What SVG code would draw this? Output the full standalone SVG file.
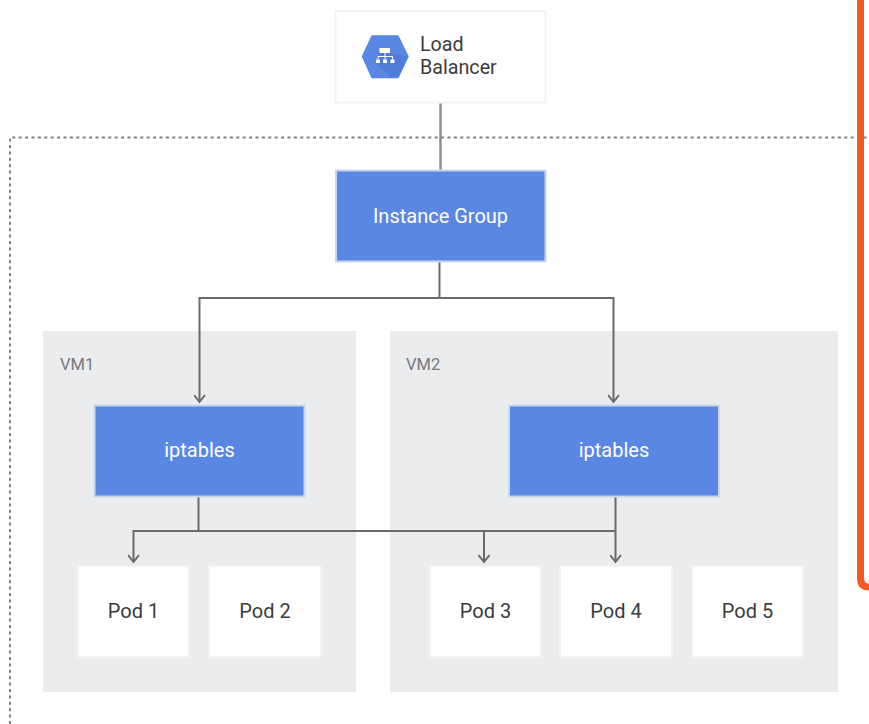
<svg xmlns="http://www.w3.org/2000/svg" width="869" height="724" viewBox="0 0 869 724">
<style>
text{font-family:Roboto,"Liberation Sans",sans-serif}
.vm{fill:#ebecee}
.vml{font-size:16.500px;fill:#77797c}
.blue{fill:#5a86e4;stroke:#c9d6ee;stroke-width:2}
.white{fill:#fff;stroke:#f3f3f3;stroke-width:2}
.bl{font-size:20px;fill:#fff;text-anchor:middle}
.pl{font-size:20px;fill:#3c3c3c;text-anchor:middle}
.c{fill:none;stroke:#6a6a6a;stroke-width:2}
.c2{fill:none;stroke:#8c8c8c;stroke-width:2.400}
.a{marker-end:url(#arrow)}
</style>
<defs>
<marker id="arrow" markerUnits="userSpaceOnUse" markerWidth="16" markerHeight="12" refX="13" refY="6" orient="auto">
<path d="M6 0.500L13 6L6 11.500" fill="none" stroke="#6a6a6a" stroke-width="2"/>
</marker>
</defs>
<rect width="869" height="724" fill="#fff"/>
<path id="boundary" d="M10 724V137.500H869" fill="none" stroke="#808080" stroke-width="2" stroke-dasharray="3 3.400"/>
<path id="orange-frame" d="M860.500 0V578Q860.500 587 869 587" fill="none" stroke="#f15a24" stroke-width="7"/>
<g id="vm1"><rect class="vm" x="43" y="331" width="313" height="361"/><text class="vml" x="60" y="370">VM1</text></g>
<g id="vm2"><rect class="vm" x="390" y="331" width="448" height="361"/><text class="vml" x="406" y="370">VM2</text></g>
<g id="connectors">
<path class="c2" d="M440.500 103V170"/>
<path class="c" d="M439.500 262V298"/>
<path class="c a" d="M439.500 298H199.500V402"/>
<path class="c a" d="M439.500 298H613.500V402"/>
<path class="c" d="M198.500 497V531"/>
<path class="c a" d="M615 531H133.500V562"/>
<path class="c a" d="M484 531V562"/>
<path class="c a" d="M615.500 497V562"/>
</g>
<g id="load-balancer">
<rect class="white" x="335.500" y="11" width="210" height="91.500"/>
<path d="M372 36H398L408 56.500L398 77.500H372L362.500 56.500Z" fill="#5a86e4" stroke="#5a86e4" stroke-width="1.500" stroke-linejoin="round"/>
<path d="M380 52L408 56.500L398 77.500H391L375 62Z" fill="#4a76d4" opacity=".6"/>
<g fill="#fff"><rect x="379.500" y="48" width="10.500" height="5"/><rect x="376" y="59.500" width="4" height="3.500"/><rect x="383" y="59.500" width="4" height="3.500"/><rect x="390.500" y="59.500" width="4" height="3.500"/></g>
<path d="M385 53V59.500M378 59.500V56.500H392.500V59.500" fill="none" stroke="#fff"/>
<text x="420" y="51" font-size="19.700" fill="#3c3c3c">Load</text>
<text x="420" y="74" font-size="19.700" fill="#3c3c3c">Balancer</text>
</g>
<g id="instance-group"><rect class="blue" x="336" y="170.500" width="209.500" height="91"/><text class="bl" x="440.500" y="223">Instance Group</text></g>
<g id="iptables-1"><rect class="blue" x="94.500" y="405.500" width="210" height="91"/><text class="bl" x="199.500" y="457">iptables</text></g>
<g id="iptables-2"><rect class="blue" x="509" y="405.500" width="210" height="91"/><text class="bl" x="614" y="457">iptables</text></g>
<g id="pod-1"><rect class="white" x="78" y="566" width="111" height="91"/><text class="pl" x="133.500" y="618">Pod 1</text></g>
<g id="pod-2"><rect class="white" x="209" y="566" width="112" height="91"/><text class="pl" x="265" y="618">Pod 2</text></g>
<g id="pod-3"><rect class="white" x="430" y="566" width="111" height="91"/><text class="pl" x="485.500" y="618">Pod 3</text></g>
<g id="pod-4"><rect class="white" x="560" y="566" width="112" height="91"/><text class="pl" x="616" y="618">Pod 4</text></g>
<g id="pod-5"><rect class="white" x="692" y="566" width="111" height="91"/><text class="pl" x="747.500" y="618">Pod 5</text></g>
</svg>
